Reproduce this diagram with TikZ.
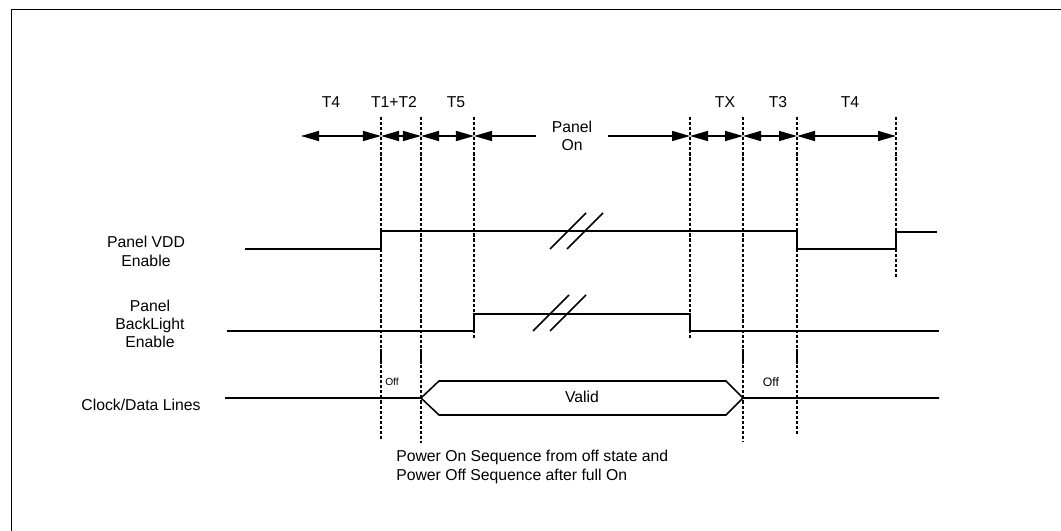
\documentclass[tikz,border=0pt]{standalone}
\usepackage{fontspec}
\setmainfont{Liberation Sans}
\usetikzlibrary{arrows.meta}
\tikzset{
  bighead/.tip={Triangle[length=0.45cm,width=0.25cm]},
  sig/.style={line width=1.1pt},
  markline/.style={line width=0.8pt, dash pattern=on 2.2pt off 1.4pt},
  span/.style={line width=1pt, bighead-bighead},
  lbl/.style={font=\fontsize{11.2}{13}\selectfont, align=center, inner sep=0pt},
  offlbl/.style={inner sep=0pt},
}
\begin{document}
\begin{tikzpicture}[x=0.025cm,y=-0.025cm]
  \useasboundingbox (0,0) rectangle (1061,531);
  % frame
  \draw[line width=1.4pt] (11.5,531) -- (11.5,9.5) -- (1061,9.5);
  % timing marks
  \foreach \n/\x/\b in {a/381/440,b/421/443,c/474/338,d/690/338,e/743/442,f/797/434,g/896/277}{
    \coordinate (\n) at (\x,136);
    \coordinate (\n top) at (\x,117);
    \coordinate (\n bot) at (\x,\b);
    \draw[markline] (\n top) -- (\n bot);
  }
  \foreach \n in {a,b,e,f}{
    \draw[line width=0.8pt] (\n |- 0,349) -- (\n |- 0,364);
  }
  % spans
  \coordinate (s0) at (301,136);
  \draw[span] (s0) -- (a);
  \draw[span] (a) -- (b);
  \draw[span] (b) -- (c);
  \draw[span] (d) -- (e);
  \draw[span] (e) -- (f);
  \draw[span] (f) -- (g);
  \node[lbl, inner xsep=11pt] (on) at (572,136) {Panel\\On};
  \draw[line width=1pt, bighead-] (c) -- (on.west);
  \draw[line width=1pt, -bighead] (on.east) -- (d);
  \node[lbl] (t4a) at (331,102) {T4};
  \node[lbl] (t12) at (394,102) {T1+T2};
  \node[lbl] (t5) at (456,102) {T5};
  \node[lbl] (tx) at (725,102) {TX};
  \node[lbl] (t3) at (778,102) {T3};
  \node[lbl] (t4b) at (850,102) {T4};
  % Panel VDD
  \node[lbl] (vdd) at (146,251.5) {Panel VDD\\Enable};
  \draw[sig] (245,249) -- (a |- 0,249) -- (a |- 0,231) -- (f |- 0,231)
    -- (f |- 0,249) -- (g |- 0,249) -- (g |- 0,232) -- (937,232);
  \draw[sig] (550,249) -- (586,213);
  \draw[sig] (567,249) -- (603,213);
  % Panel BackLight
  \node[lbl] (bl) at (150,324) {Panel\\BackLight\\Enable};
  \draw[sig] (227,331) -- (c |- 0,331) -- (c |- 0,314) -- (d |- 0,314)
    -- (d |- 0,331) -- (939,331);
  \draw[sig] (533,331) -- (569,295);
  \draw[sig] (550,331) -- (586,295);
  % Clock/Data
  \node[lbl] (clk) at (141,405) {Clock/Data Lines};
  \draw[sig] (225,398) -- (b |- 0,398) -- (439,381) -- (726,381)
    -- (e |- 0,398) -- (939,398);
  \draw[sig] (b |- 0,398) -- (439,415) -- (726,415) -- (e |- 0,398);
  \node[lbl] (valid) at (582,397) {Valid};
  \node[offlbl, font=\fontsize{7.3}{8}\selectfont] (off1) at (392,382) {Off};
  \node[offlbl, font=\fontsize{8.7}{10}\selectfont] (off2) at (771,382) {Off};
  % caption
  \node[lbl, align=left, anchor=west] (cap) at (396,467)
    {Power On Sequence from off state and\\Power Off Sequence after full On};
\end{tikzpicture}
\end{document}
